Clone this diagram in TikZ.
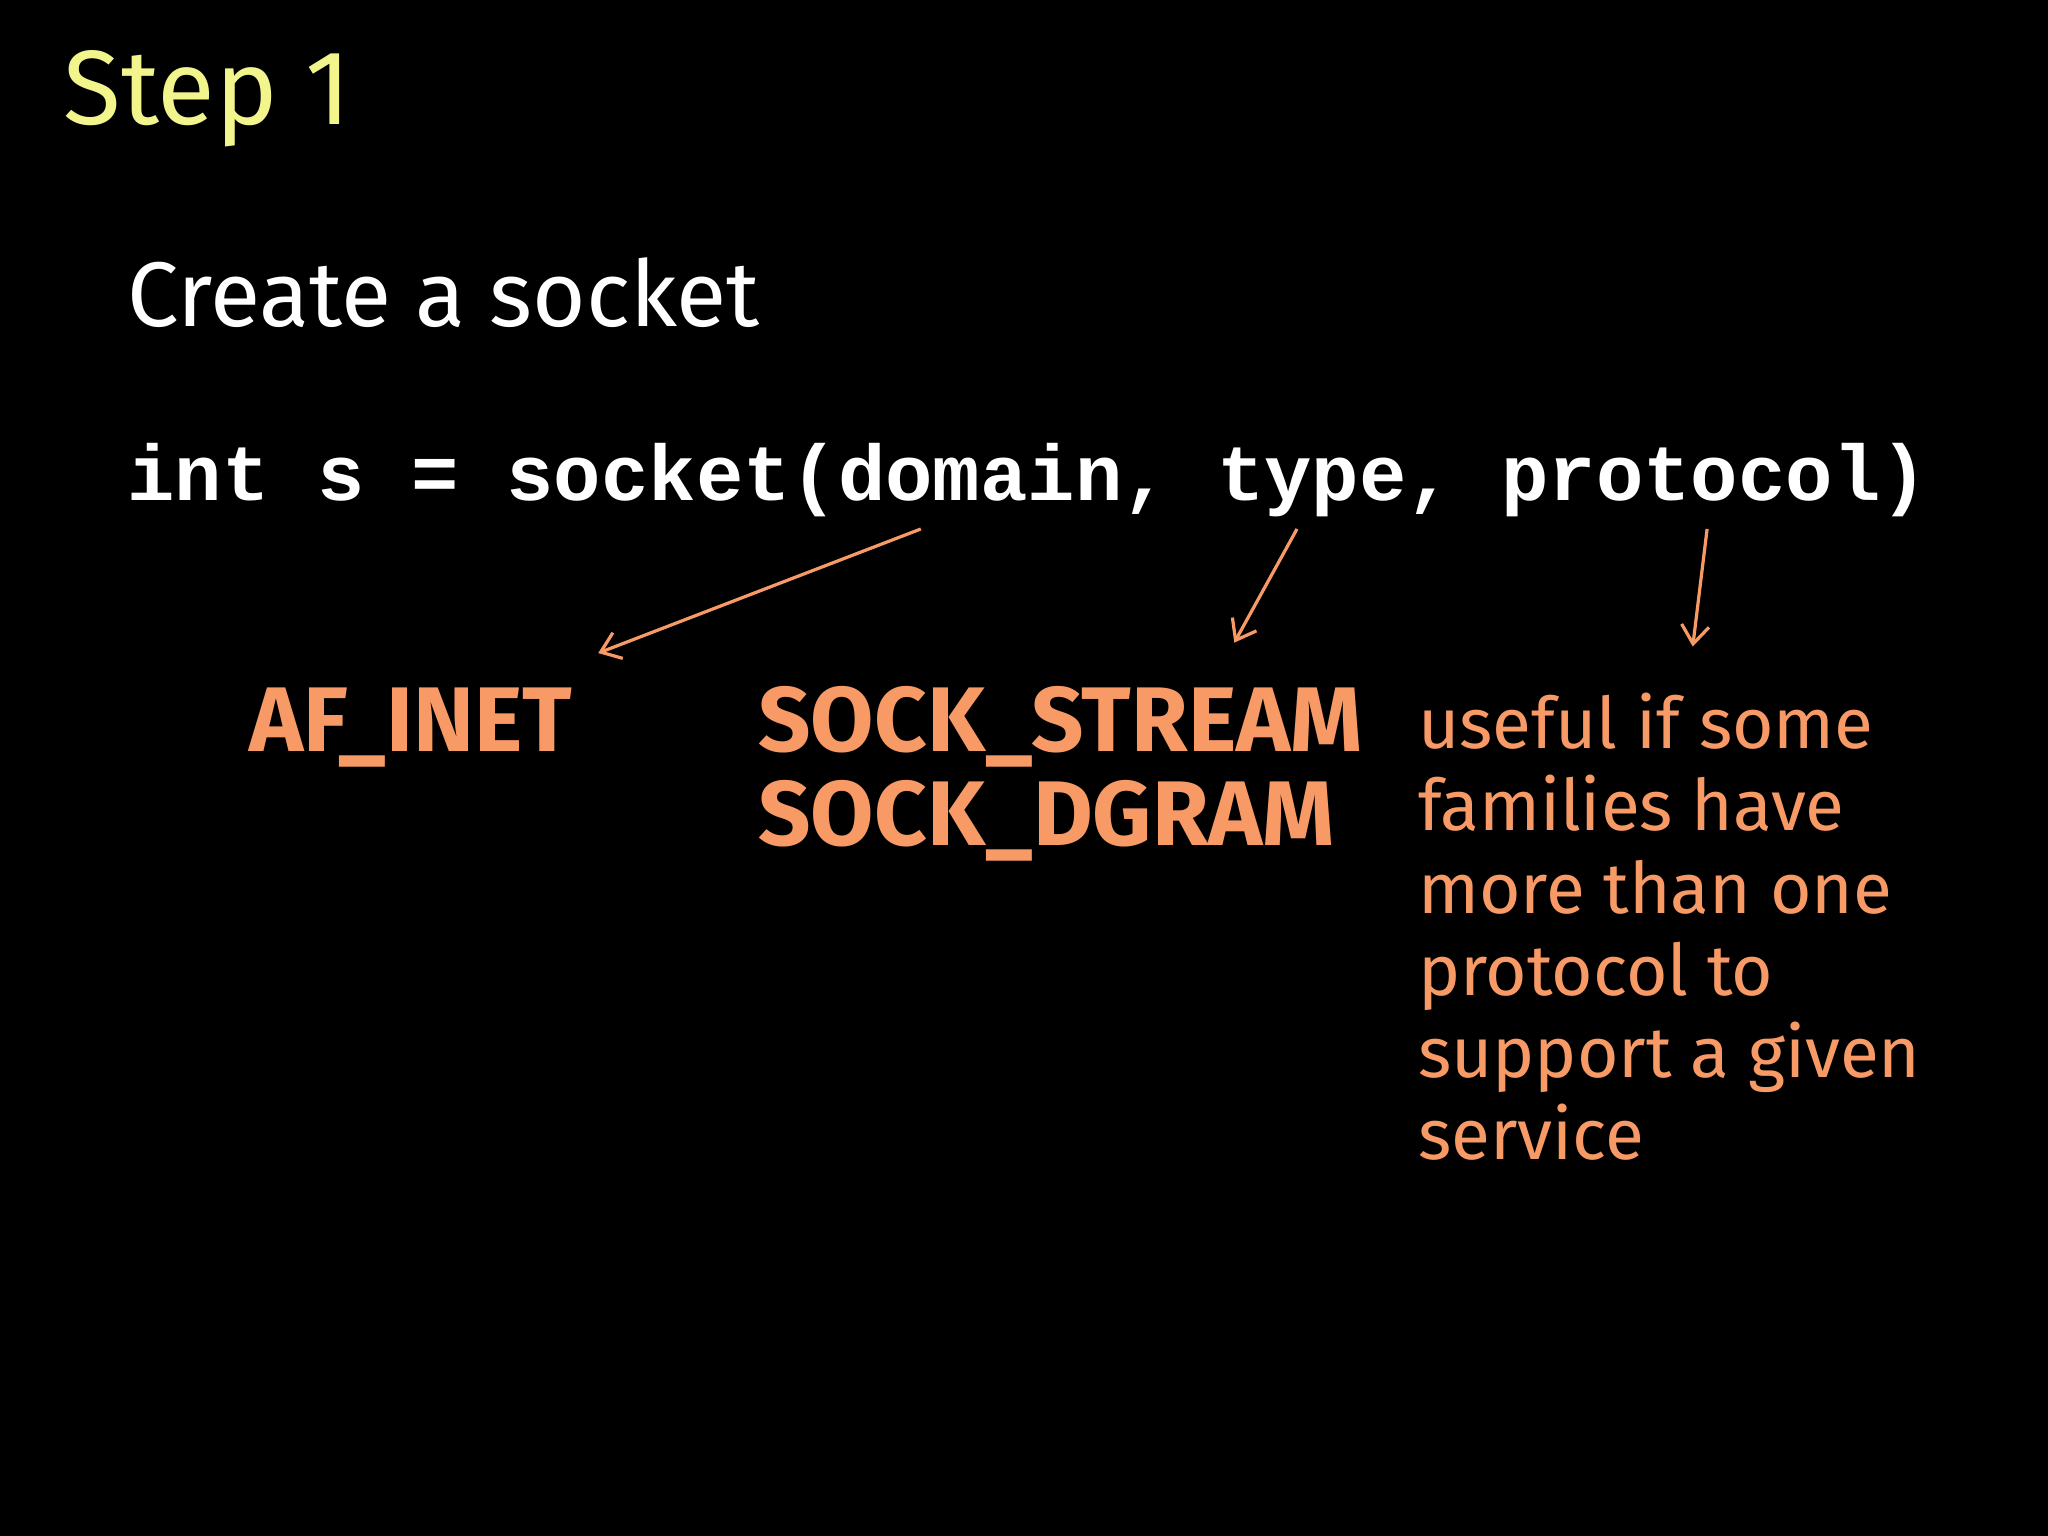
\documentclass[tikz,border=0pt]{standalone}
\usepackage{fontspec}
\usetikzlibrary{arrows.meta}
\setmainfont{Fira Sans}
\setmonofont{Liberation Mono}
\definecolor{ylw}{HTML}{F2F58C}
\definecolor{org}{HTML}{F89A66}
\begin{document}
\begin{tikzpicture}[x=0.1mm,y=-0.1mm,
  lbl/.style={anchor=base west,inner sep=0pt},
  arr/.style={draw=org,line width=0.7pt,-{Straight Barb[length=4pt,width=6pt]}}]
\fill[black] (0,0) rectangle (1568,1176);
\node[lbl,text=ylw,font=\fontsize{23}{27}\selectfont] (t) at (48,95) {Step 1};
\node[lbl,text=white,font=\fontsize{20}{24}\selectfont] (c) at (97,250) {Create a socket};
\node[lbl,text=white,font=\ttfamily\bfseries\fontsize{17.2}{20}\selectfont] (code) at (97,383) {int s = socket(domain, type, protocol)};
\node[lbl,text=org,font=\bfseries\fontsize{20}{24}\selectfont] (af) at (190,575) {AF\_INET};
\node[lbl,text=org,font=\bfseries\fontsize{20}{24}\selectfont,align=left] (st) at (580,575) {SOCK\_STREAM};
\node[lbl,text=org,font=\bfseries\fontsize{20}{24}\selectfont] (dg) at (580,647) {SOCK\_DGRAM};
\node[anchor=north west,inner sep=0pt,text=org,font=\fontsize{15.5}{17.9}\selectfont,align=left] (u) at (1085,530)
 {useful if some\\families have\\more than one\\protocol to\\support a given\\service};
\coordinate (a1) at (705,405); \coordinate (b1) at (458,500);
\coordinate (a2) at (993,405); \coordinate (b2) at (945,492);
\coordinate (a3) at (1307,405); \coordinate (b3) at (1296,495);
\draw[arr] (a1) -- (b1);
\draw[arr] (a2) -- (b2);
\draw[arr] (a3) -- (b3);
\end{tikzpicture}
\end{document}
